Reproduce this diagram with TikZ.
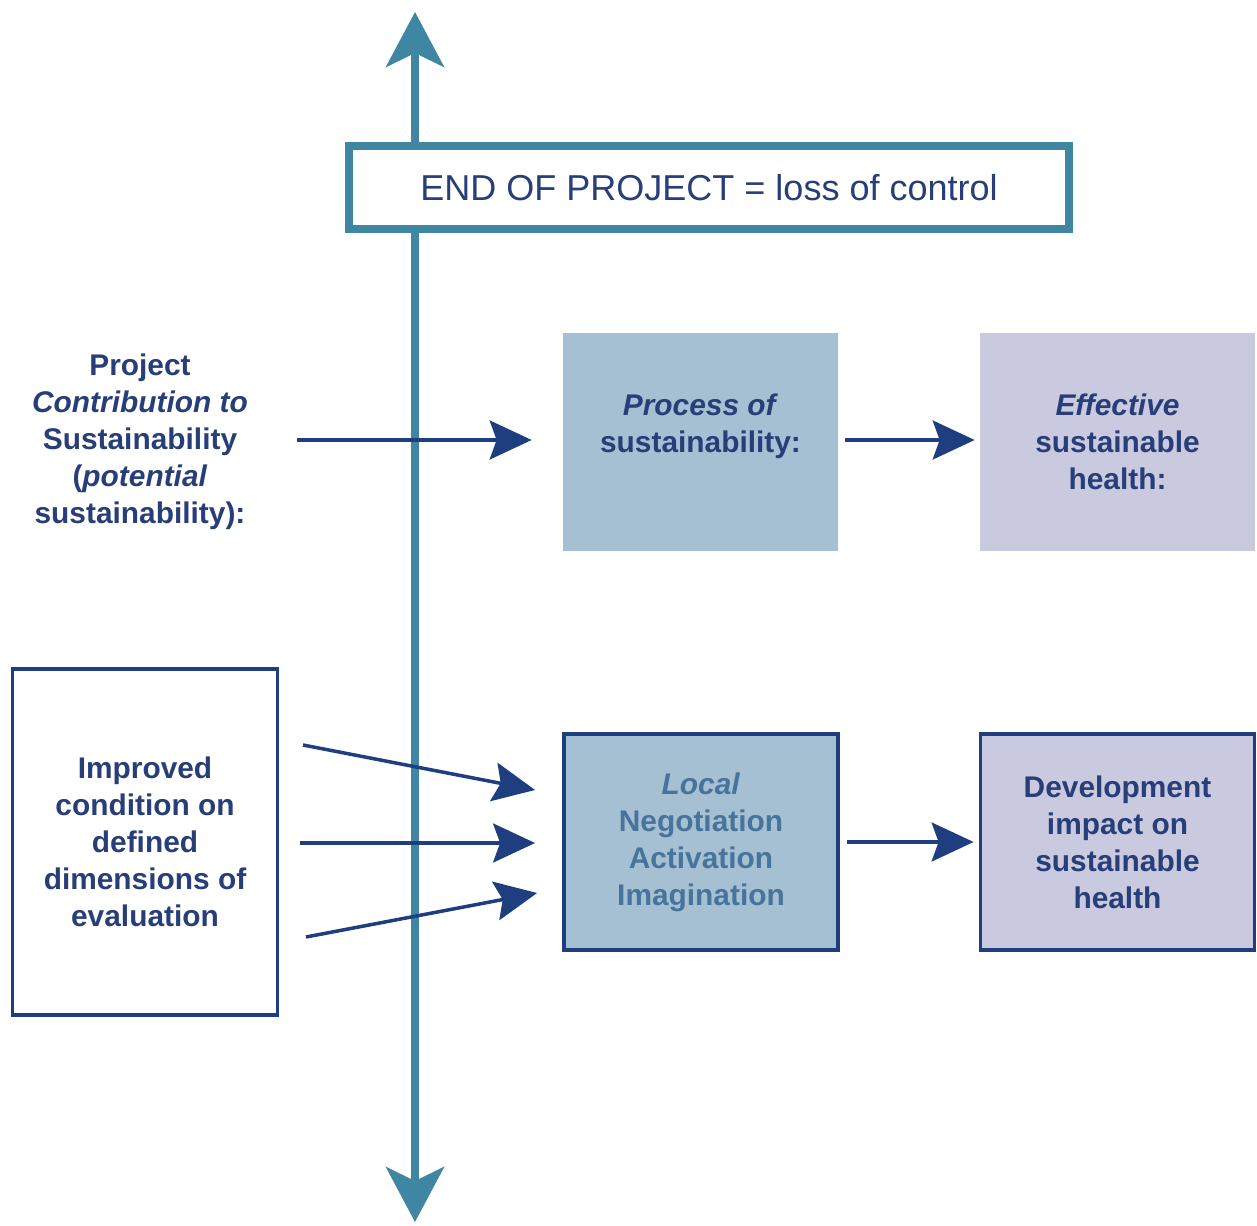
\documentclass[tikz,border=0pt]{standalone}
\usepackage{fontspec}
\setmainfont{Liberation Sans}
\usetikzlibrary{positioning,arrows.meta}

\definecolor{axisteal}{RGB}{62,134,162}
\definecolor{arrownavy}{RGB}{30,62,128}
\definecolor{textnavy}{RGB}{40,62,120}
\definecolor{procblue}{RGB}{164,192,210}
\definecolor{lavender}{RGB}{201,201,223}
\definecolor{localtext}{RGB}{72,116,156}

\tikzset{
  flow/.style={-{Stealth[length=0.84cm,width=0.78cm,inset=0.14cm]},line width=2pt,draw=arrownavy},
  stagebox/.style={minimum width=5.5cm,minimum height=4.36cm,align=center,inner sep=0pt,
    font=\bfseries\fontsize{17}{21}\selectfont,text=textnavy},
}

\begin{document}
\begin{tikzpicture}[x=0.02cm,y=-0.02cm]
\useasboundingbox (0,0) rectangle (1257,1226);

%---------------------------------
% time axis (end of project)
%---------------------------------
\coordinate (axtop) at (415,12);
\coordinate (axbot) at (415,1222);
\draw[{Stealth[length=1.1cm,width=1.16cm,inset=0.28cm]}-{Stealth[length=1.1cm,width=1.16cm,inset=0.28cm]},
  line width=4pt,draw=axisteal] (axbot) -- (axtop);

\node[draw=axisteal,line width=4.5pt,fill=white,minimum width=14.4cm,minimum height=1.66cm,
  inner sep=0pt,text=textnavy,font=\fontsize{20.5}{24}\selectfont] (endproj) at (709,187.5)
{END OF PROJECT = loss of control};

%---------------------------------
% upper row: potential -> process -> effective
%---------------------------------
\node[align=center,font=\bfseries\fontsize{17}{21}\selectfont,text=textnavy] (contrib) at (140,442)
{Project\\ \textit{Contribution to}\\ Sustainability\\ (\textit{potential}\\ sustainability):};

\node[stagebox,fill=procblue] (process) at (700.5,442)
{\textit{Process of}\\ sustainability:\\ \mbox{}};

\node[stagebox,fill=lavender] (effective) at (1117.5,442)
{\textit{Effective}\\ sustainable\\ health:};

\coordinate (cstart) at (297,440);
\draw[flow,shorten >=0.62cm] (cstart) -- (process.west |- cstart);
\draw[flow,shorten <=0.14cm,shorten >=0.1cm] (process.east |- cstart) -- (effective.west |- cstart);

%---------------------------------
% lower row: evaluation -> local -> impact
%---------------------------------
\node[draw=arrownavy,line width=1.8pt,fill=white,minimum width=5.3cm,minimum height=6.92cm,
  align=center,inner sep=0pt,font=\bfseries\fontsize{17}{21}\selectfont,text=textnavy] (improved) at (145,842)
{Improved\\ condition on\\ defined\\ dimensions of\\ evaluation};

\node[stagebox,draw=arrownavy,line width=2.2pt,fill=procblue,minimum width=5.48cm,minimum height=4.32cm,
  text=localtext] (local) at (701,842)
{\textit{Local}\\ Negotiation\\ Activation\\ Imagination};

\node[stagebox,draw=arrownavy,line width=2.2pt,fill=lavender,minimum width=5.48cm,minimum height=4.32cm] (impact) at (1117.5,842)
{Development\\ impact on\\ sustainable\\ health};

% three inputs converging on the local box
\coordinate (in1) at (303,745);
\coordinate (in2) at (300,843);
\coordinate (in3) at (306,937);
\draw[flow] (in1) -- ([shift={(-27,-52)}]local.west);
\draw[flow] (in2) -- ([shift={(-27,1)}]local.west);
\draw[flow] (in3) -- ([shift={(-25,51)}]local.west);

\draw[flow,shorten <=0.14cm,shorten >=0.1cm] (local.east) -- (impact.west);

\end{tikzpicture}
\end{document}
